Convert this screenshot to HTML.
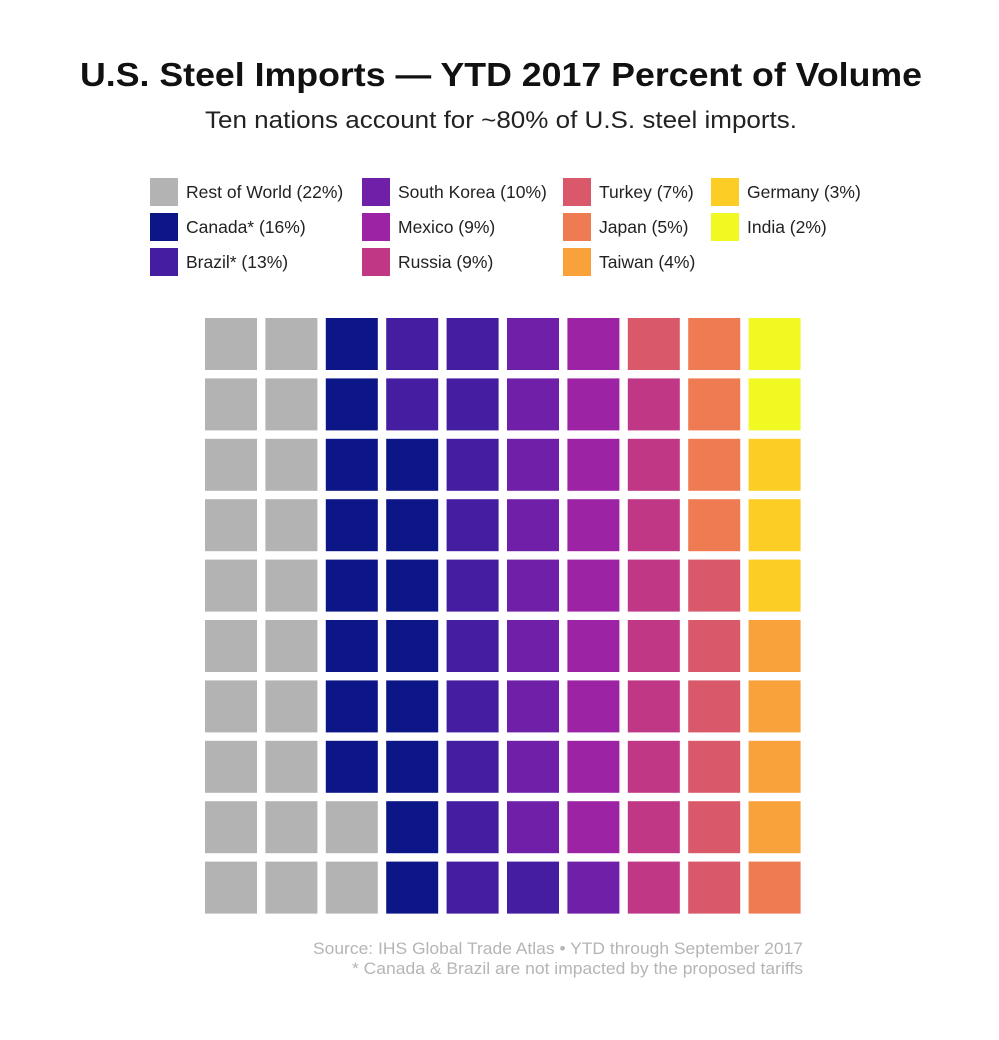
<!DOCTYPE html>
<html><head><meta charset="utf-8">
<style>
body{margin:0;background:#fff;width:999px;height:1040px;overflow:hidden;font-family:"Liberation Sans",sans-serif;}
svg{display:block}
</style></head>
<body>
<svg id="chart" width="999" height="1040">
<text x="80" y="86" textLength="842" lengthAdjust="spacingAndGlyphs" font-size="33" font-weight="bold" fill="#111">U.S. Steel Imports — YTD 2017 Percent of Volume</text>
<text x="205" y="128" textLength="592" lengthAdjust="spacingAndGlyphs" font-size="24" fill="#222">Ten nations account for ~80% of U.S. steel imports.</text>
<g id="legend"></g>
<g id="cells"></g>
<text x="313" y="954" textLength="490" lengthAdjust="spacingAndGlyphs" font-size="16.5" fill="#b5b5b5">Source: IHS Global Trade Atlas • YTD through September 2017</text>
<text x="352" y="974" textLength="451" lengthAdjust="spacingAndGlyphs" font-size="16.5" fill="#b5b5b5">* Canada &amp; Brazil are not impacted by the proposed tariffs</text>
</svg>
<script>
const categories = ["Rest of World","Canada*","Brazil*","South Korea","Mexico","Russia","Turkey","Japan","Taiwan","Germany","India"];
const values = [22,16,13,10,9,9,7,5,4,3,2];
const colors = ["#b3b3b3","#0d1687","#451da1","#7020a8","#9c24a4","#bf3785","#d9586a","#ee7b51","#f9a23c","#fccd25","#f0f921"];
const NS="http://www.w3.org/2000/svg";
const cellsG=document.getElementById('cells');
const legendG=document.getElementById('legend');
const x0=205, y0=318, pitch=60.4, size=52;
function colX(c){return x0+c*pitch;}
function rowY(r){return y0+(9-r)*pitch;}
let idx=0;
categories.forEach((cat,ci)=>{
  for(let k=0;k<values[ci];k++){
    const col=Math.floor(idx/10), row=idx%10;
    const r=document.createElementNS(NS,'rect');
    r.setAttribute('x',colX(col));r.setAttribute('y',rowY(row));
    r.setAttribute('width',size);r.setAttribute('height',size);
    r.setAttribute('fill',colors[ci]);
    
    
    cellsG.appendChild(r);
    idx++;
  }
});
const legX=[150,362,563,711];
categories.forEach((cat,ci)=>{
  const col=Math.floor(ci/3), row=ci%3;
  const g=document.createElementNS(NS,'g');
  
  
  const s=document.createElementNS(NS,'rect');
  s.setAttribute('x',legX[col]);s.setAttribute('y',178+row*35);
  s.setAttribute('width',28);s.setAttribute('height',28);s.setAttribute('fill',colors[ci]);
  const t=document.createElementNS(NS,'text');
  t.setAttribute('x',legX[col]+36);t.setAttribute('y',198+row*35);
  t.setAttribute('font-size','17.5');t.setAttribute('fill','#222');
  t.textContent=cat+' ('+values[ci]+'%)';
  g.appendChild(s);g.appendChild(t);legendG.appendChild(g);
});
</script>
</body></html>
